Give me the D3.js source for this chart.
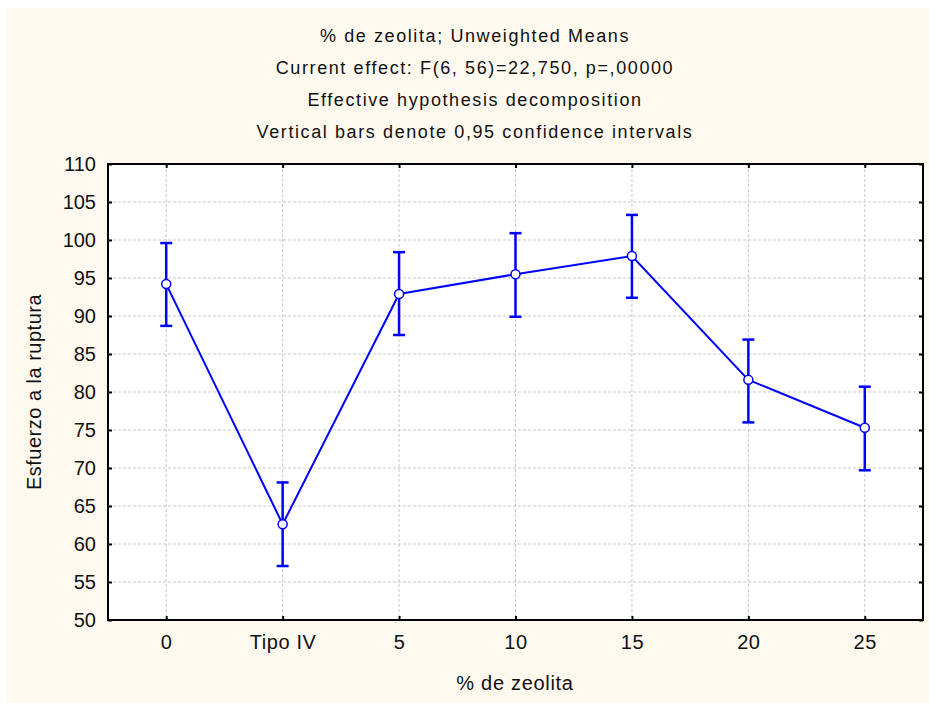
<!DOCTYPE html>
<html><head><meta charset="utf-8">
<script src="https://cdn.jsdelivr.net/npm/d3@7"></script>
<style>body{margin:0;background:#fff}svg{display:block}</style>
</head><body>
<script>
const categories = ["0","Tipo IV","5","10","15","20","25"];
const means = [94.2, 62.6, 92.9, 95.5, 97.9, 81.6, 75.3];
const lower = [88.7, 57.1, 87.5, 89.9, 92.4, 76.0, 69.7];
const upper = [99.6, 68.1, 98.4, 100.9, 103.3, 86.9, 80.7];
const yTicks = [50,55,60,65,70,75,80,85,90,95,100,105,110];
const titles = ["% de zeolita; Unweighted Means","Current effect: F(6, 56)=22,750, p=,00000","Effective hypothesis decomposition","Vertical bars denote 0,95 confidence intervals"];
const xTitle = "% de zeolita";
const yTitle = "Esfuerzo a la ruptura";

const W=929,H=703;
const m={l:108,t:164,r:923,b:620};
const svg=d3.select("body").append("svg").attr("width",W).attr("height",H);
svg.append("rect").attr("x",7).attr("y",8).attr("width",W-7).attr("height",H-8).attr("fill","#fdf9ee");
svg.append("rect").attr("x",m.l).attr("y",m.t).attr("width",m.r-m.l).attr("height",m.b-m.t).attr("fill","#fff");

const x=d3.scalePoint().domain(categories).range([m.l,m.r]).padding(0.5);
const y=d3.scaleLinear().domain([50,110]).range([m.b,m.t]);
const font="'Liberation Sans', Arial, sans-serif";

// grid
const g=svg.append("g");
g.selectAll(".hg").data(yTicks.slice(1,-1)).join("line")
 .attr("x1",m.l).attr("x2",m.r).attr("y1",d=>y(d)).attr("y2",d=>y(d))
 .attr("stroke","#c8c8c8").attr("stroke-width",1).attr("stroke-dasharray","3,2");
g.selectAll(".vg").data(categories).join("line")
 .attr("x1",d=>x(d)).attr("x2",d=>x(d)).attr("y1",m.t).attr("y2",m.b)
 .attr("stroke","#c8c8c8").attr("stroke-width",1).attr("stroke-dasharray","3,2");

// axes
const axL=d3.axisLeft(y).tickValues(yTicks).tickSize(-4).tickPadding(12);
const axR=d3.axisRight(y).tickValues(yTicks).tickSize(-4).tickFormat("");
const axB=d3.axisBottom(x).tickSize(-4).tickPadding(15);
const axT=d3.axisTop(x).tickSize(-4).tickFormat("");
function style(sel){sel.selectAll("path").attr("stroke","#000").attr("stroke-width",2);
 sel.selectAll(".tick line").attr("stroke","#000").attr("stroke-width",2);
 sel.selectAll("text").attr("font-family",font).attr("font-size",20).attr("fill","#111");}
svg.append("g").attr("transform",`translate(${m.l},0)`).call(axL).call(style).call(s=>s.select(".domain").remove());
svg.append("g").attr("transform",`translate(${m.r},0)`).call(axR).call(style).call(s=>s.select(".domain").remove());
svg.append("g").attr("transform",`translate(0,${m.b})`).call(axB).call(style).call(s=>s.select(".domain").remove())
 .selectAll("text").attr("letter-spacing",0.6);
svg.append("g").attr("transform",`translate(0,${m.t})`).call(axT).call(style).call(s=>s.select(".domain").remove());
svg.append("rect").attr("x",m.l).attr("y",m.t).attr("width",m.r-m.l).attr("height",m.b-m.t)
 .attr("fill","none").attr("stroke","#000").attr("stroke-width",2);

const data=categories.map((c,i)=>({c,m:means[i],lo:lower[i],hi:upper[i]}));
const blue="#0000ff";
svg.append("path").datum(data).attr("d",d3.line().x(d=>x(d.c)).y(d=>y(d.m)))
 .attr("fill","none").attr("stroke",blue).attr("stroke-width",2);
const eb=svg.append("g").attr("stroke",blue).attr("stroke-width",2.5);
eb.selectAll(".v").data(data).join("line").attr("x1",d=>x(d.c)).attr("x2",d=>x(d.c)).attr("y1",d=>y(d.lo)).attr("y2",d=>y(d.hi));
eb.selectAll(".u").data(data).join("line").attr("x1",d=>x(d.c)-6).attr("x2",d=>x(d.c)+6).attr("y1",d=>y(d.hi)).attr("y2",d=>y(d.hi));
eb.selectAll(".l").data(data).join("line").attr("x1",d=>x(d.c)-6).attr("x2",d=>x(d.c)+6).attr("y1",d=>y(d.lo)).attr("y2",d=>y(d.lo));
svg.selectAll(".pt").data(data).join("circle").attr("cx",d=>x(d.c)).attr("cy",d=>y(d.m)).attr("r",4.5)
 .attr("fill","#fff").attr("stroke",blue).attr("stroke-width",1.5);

svg.selectAll(".title").data(titles).join("text").attr("x",475).attr("y",(d,i)=>42+i*32)
 .attr("text-anchor","middle").attr("font-family",font).attr("font-size",18).attr("letter-spacing",1.6)
 .attr("fill","#111").text(d=>d);
svg.append("text").attr("x",515).attr("y",690).attr("text-anchor","middle").attr("letter-spacing",0.7)
 .attr("font-family",font).attr("font-size",20).attr("fill","#111").text(xTitle);
svg.append("text").attr("transform",`translate(41,${(m.t+m.b)/2}) rotate(-90)`).attr("text-anchor","middle")
 .attr("letter-spacing",0.5).attr("font-family",font).attr("font-size",20).attr("fill","#111").text(yTitle);
</script>
</body></html>
